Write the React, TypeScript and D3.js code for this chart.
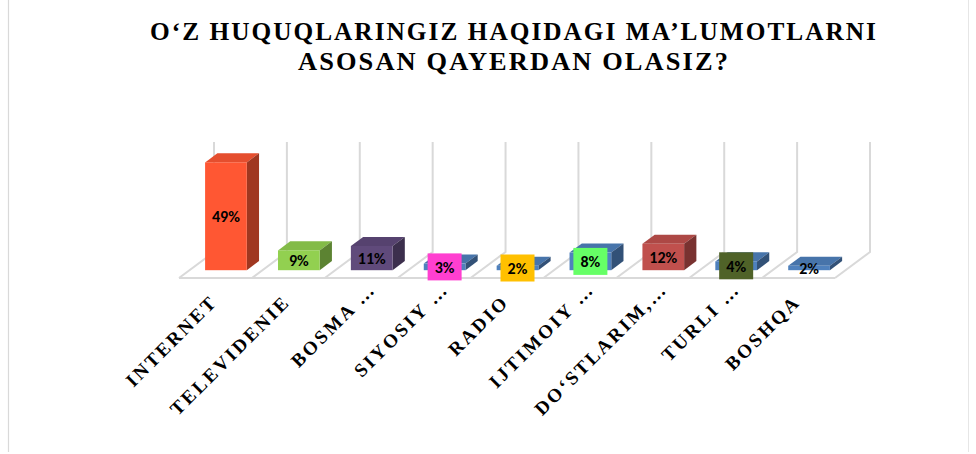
import React, { useEffect, useRef } from "react";
import * as d3 from "d3";

// chart data
const titleLines = ["O‘Z HUQUQLARINGIZ HAQIDAGI MA’LUMOTLARNI", "ASOSAN QAYERDAN OLASIZ?"];
const titleWidths = [728, 432];
const categories = ["INTERNET", "TELEVIDENIE", "BOSMA …", "SIYOSIY …", "RADIO", "IJTIMOIY …", "DO‘STLARIM,…", "TURLI …", "BOSHQA"];
const values = [49, 9, 11, 3, 2, 8, 12, 4, 2];
const barColors = ["#FF5733", "#92D050", "#604A7B", "#4F81BD", "#4F81BD", "#4F81BD", "#C0504D", "#4F81BD", "#4F81BD"];
const labelBoxes = [null, null, null, "#FF3FD0", "#FFC000", "#66FF66", null, "#4F6228", null];

const W = 976;
const H = 454;

const App = () => {
    const ref = useRef<SVGSVGElement>(null);

    useEffect(() => {
        const svg = d3.select(ref.current);
        svg.selectAll("*").remove();

        // floor front edge, depth vector for the 3d look
        const floorY = 278;
        const depth = { x: 35, y: -26 };
        const barT0 = 0.3;
        const barT1 = 0.65;

        const x = d3.scaleBand().domain(categories).range([179, 835]).padding(0);
        const h = d3.scaleLinear().domain([0, 50]).range([0, 110]);
        const barW = x.bandwidth() * 0.572;

        // chart border
        svg.append("line").attr("x1", 8.5).attr("x2", 8.5).attr("y1", 0).attr("y2", 452)
            .attr("stroke", "#d9d9d9").attr("stroke-width", 1.2);
        svg.append("line").attr("x1", 968.5).attr("x2", 968.5).attr("y1", 0).attr("y2", 452)
            .attr("stroke", "#e6e6e6").attr("stroke-width", 1);

        // title (condensed serif)
        svg.append("g")
            .selectAll("text")
            .data(titleLines)
            .join("text")
            .attr("x", 514)
            .attr("y", (d, i) => 39.5 + i * 30)
            .attr("text-anchor", "middle")
            .attr("textLength", (d, i) => titleWidths[i])
            .attr("lengthAdjust", "spacingAndGlyphs")
            .style("font-family", "'Liberation Serif', 'Times New Roman', serif")
            .style("font-weight", "bold")
            .style("font-size", "25px")
            .style("letter-spacing", "2px")
            .style("fill", "#000")
            .text((d) => d);

        // back wall + floor gridlines
        const grid = svg.append("g").attr("fill", "none").attr("stroke", "#d9d9d9").attr("stroke-width", 2);
        const bounds = d3.range(categories.length + 1).map((i) => x.range()[0] + i * x.step());
        bounds.forEach((bx) => {
            grid.append("path")
                .attr("d", `M${bx},${floorY} L${bx + depth.x},${floorY + depth.y} L${bx + depth.x},${floorY + depth.y - h(50)}`);
        });
        grid.append("line")
            .attr("x1", x.range()[0]).attr("x2", x.range()[1])
            .attr("y1", floorY).attr("y2", floorY);

        // bars
        const bars = svg.append("g");
        categories.forEach((c, i) => {
            const cx = x(c)! + x.bandwidth() / 2 + depth.x * barT0;
            const x0 = cx - barW / 2;
            const y0 = floorY + depth.y * barT0;
            const bh = h(values[i]);
            const dx = depth.x * (barT1 - barT0);
            const dy = depth.y * (barT1 - barT0);
            const base = d3.color(barColors[i])!;
            // top
            bars.append("path")
                .attr("d", `M${x0},${y0 - bh} L${x0 + dx},${y0 - bh + dy} L${x0 + barW + dx},${y0 - bh + dy} L${x0 + barW},${y0 - bh} Z`)
                .attr("fill", base.darker(0.3).toString());
            // side
            bars.append("path")
                .attr("d", `M${x0 + barW},${y0} L${x0 + barW + dx},${y0 + dy} L${x0 + barW + dx},${y0 - bh + dy} L${x0 + barW},${y0 - bh} Z`)
                .attr("fill", base.darker(1.3).toString());
            // front
            bars.append("rect")
                .attr("x", x0).attr("y", y0 - bh)
                .attr("width", barW).attr("height", bh)
                .attr("fill", barColors[i]);
        });

        // value labels
        const labels = svg.append("g")
            .style("font-family", "Carlito, 'Liberation Sans', Arial, sans-serif")
            .style("font-weight", "bold")
            .style("font-size", "16px");
        categories.forEach((c, i) => {
            const lx = x(c)! + x.bandwidth() / 2 + depth.x * barT0;
            const ly = floorY + depth.y * barT0 - h(values[i]) / 2;
            if (labelBoxes[i]) {
                labels.append("rect")
                    .attr("x", lx - 17).attr("y", ly - 13.5)
                    .attr("width", 34).attr("height", 27)
                    .attr("fill", labelBoxes[i]!);
            }
            labels.append("text")
                .attr("x", lx).attr("y", ly)
                .attr("dy", "0.36em")
                .attr("text-anchor", "middle")
                .style("fill", "#000")
                .text(`${values[i]}%`);
        });

        // category labels, rotated
        svg.append("g")
            .selectAll("text")
            .data(categories)
            .join("text")
            .attr("transform", (d) => `translate(${x(d)! + x.bandwidth() / 2 + 3},303) rotate(-45)`)
            .attr("dx", (d) => (d.endsWith("…") ? 18 : 0))
            .attr("text-anchor", "end")
            .style("font-family", "'Liberation Serif', 'Times New Roman', serif")
            .style("font-weight", "bold")
            .style("font-size", "19px")
            .style("letter-spacing", "2.6px")
            .style("fill", "#000")
            .text((d) => d);
    }, []);

    return (
        <svg ref={ref} width={W} height={H} style={{ position: "absolute", left: 0, top: 0, background: "#fff" }}></svg>
    );
};

export default App;
